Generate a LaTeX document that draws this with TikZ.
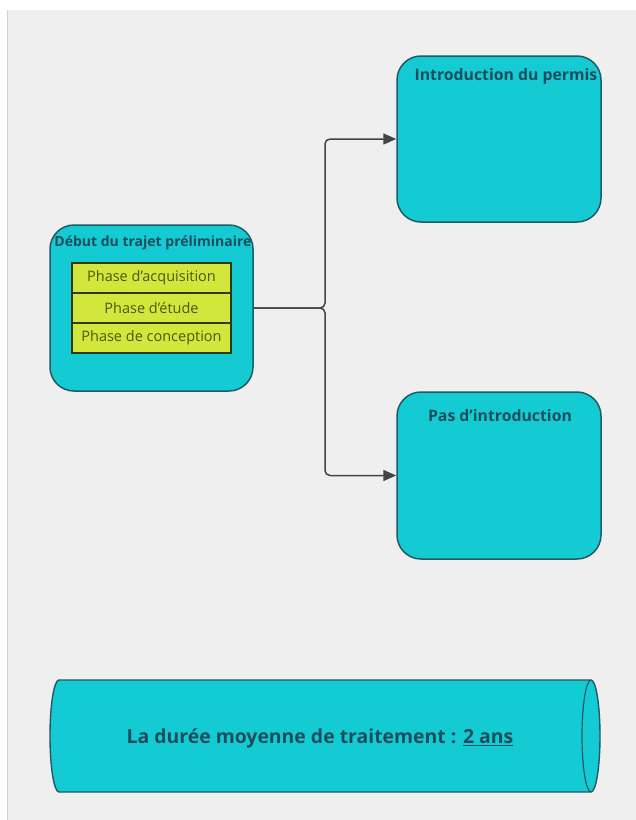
\documentclass[tikz,border=0pt]{standalone}
\usepackage{fontspec}
\setmainfont{Open Sans}
\usetikzlibrary{arrows.meta}
\newcommand{\sq}{\char39\relax}% straight apostrophe
\definecolor{canvas}{HTML}{F0EFEF}
\definecolor{tealfill}{HTML}{15CBD3}
\definecolor{tealedge}{HTML}{1E5B66}
\definecolor{tealtext}{HTML}{1B4E5C}
\definecolor{phasefill}{HTML}{D3E63C}
\definecolor{phaseedge}{HTML}{2E3A10}
\definecolor{phasetext}{HTML}{4A5A12}
\definecolor{wire}{HTML}{444444}
\tikzset{
  panel/.style={draw=tealedge, line width=1.5pt, fill=tealfill, rounded corners=24pt,
    minimum width=#1, inner sep=0pt},
  paneltitle/.style={text=tealtext, font=\bfseries\fontsize{#1}{18}\selectfont, inner sep=0pt},
  phasebox/.style={draw=phaseedge, line width=1.8pt, fill=phasefill, minimum width=159pt,
    minimum height=30pt, inner sep=0pt, text=phasetext, font=\fontsize{14.5}{16}\selectfont},
  link/.style={draw=wire, line width=1.5pt, rounded corners=5pt,
    -{Triangle[length=13pt,width=11pt]}},
}
\begin{document}
\begin{tikzpicture}[x=1pt,y=-1pt]
  % page and canvas
  \fill[white] (0,0) rectangle (636,820);
  \useasboundingbox (0,0) rectangle (636,820);
  \fill[canvas] (7,10) rectangle (636,820);
  \draw[gray!35, line width=1pt] (7,10) -- (7,820);

  % starting panel with its three phases
  \node[panel=203pt, minimum height=166pt] (start) at (151.5,308) {};
  \node[paneltitle=14] (starttitle) at (153,243) {Début du trajet préliminaire};
  \node[phasebox] (p1) at (151.5,278) {Phase d\sq acquisition};
  \node[phasebox] (p2) at (151.5,308) {Phase d\sq étude};
  \node[phasebox] (p3) at (151.5,338) {Phase de conception};

  % two outcomes
  \node[panel=204pt, minimum height=166pt] (intro) at (499,139) {};
  \node[paneltitle=15.8] (introtitle) at (506,76) {Introduction du permis};
  \node[panel=204pt, minimum height=167pt] (nointro) at (499,475.5) {};
  \node[paneltitle=15.8] (nointrotitle) at (500,416) {Pas d\sq introduction};

  % branching connectors
  \coordinate (fork) at (325,308);
  \draw[link] (start.east) -- (fork) |- (intro.west);
  \draw[link] (start.east) -- (fork) |- (nointro.west);

  % horizontal cylinder with the duration note
  \filldraw[fill=tealfill, draw=tealedge, line width=1.4pt]
    (591,680) -- (59,680) arc[start angle=-90, end angle=-270, x radius=9, y radius=56]
    -- (591,792) arc[start angle=90, end angle=-90, x radius=9, y radius=56];
  \draw[tealedge, line width=1.2pt] (591,680) arc[start angle=-90, end angle=-270, x radius=9, y radius=56];
  \node[text=tealtext, font=\bfseries\fontsize{19.4}{22}\selectfont, inner sep=0pt] (duration)
    at (320,738) {La durée moyenne de traitement : \underline{2 ans}};
\end{tikzpicture}
\end{document}
